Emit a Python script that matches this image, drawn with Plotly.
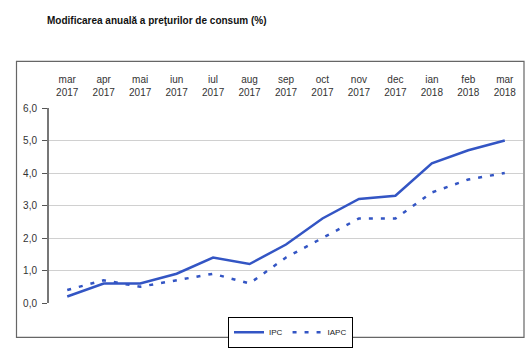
import plotly.graph_objects as go

months = ["mar<br>2017", "apr<br>2017", "mai<br>2017", "iun<br>2017", "iul<br>2017",
          "aug<br>2017", "sep<br>2017", "oct<br>2017", "nov<br>2017", "dec<br>2017",
          "ian<br>2018", "feb<br>2018", "mar<br>2018"]
ipc = [0.2, 0.6, 0.6, 0.9, 1.4, 1.2, 1.8, 2.6, 3.2, 3.3, 4.3, 4.7, 5.0]
iapc = [0.4, 0.7, 0.5, 0.7, 0.9, 0.6, 1.4, 2.0, 2.6, 2.6, 3.4, 3.8, 4.0]
yticks = [0, 1, 2, 3, 4, 5, 6]

idx = list(range(len(months)))
color = "#3355C4"

fig = go.Figure()
fig.add_trace(go.Scatter(x=idx, y=ipc, name="IPC", mode="lines",
                         line=dict(color=color, width=2.5)))
fig.add_trace(go.Scatter(x=idx, y=iapc, name="IAPC", mode="lines",
                         line=dict(color=color, width=2.5, dash="4px,8px")))

W, H = 525, 350
L, R, T, B = 49, 2, 108, 43
pw, ph = W - L - R, H - T - B

def px_x(p):
    return (p - L) / pw

def px_y(p):
    return (H - B - p) / ph

fig.update_layout(
    width=W, height=H,
    margin=dict(l=L, r=R, t=T, b=B),
    paper_bgcolor="white", plot_bgcolor="white",
    separators=",.",
    font=dict(family="Liberation Sans, Arial, sans-serif", size=10, color="#222"),
    title=dict(text="<b>Modificarea anuală a preţurilor de consum (%)</b>",
               x=47 / W, xanchor="left", y=1 - 20 / H, yanchor="middle",
               font=dict(family="Liberation Sans, Arial, sans-serif", size=10, color="#111")),
    xaxis=dict(range=[-0.5, len(months) - 0.5], tickmode="array", tickvals=idx,
               ticktext=months, side="top", showgrid=False, showline=False,
               ticks="", zeroline=False, fixedrange=True, ticklabelstandoff=9,
               tickfont=dict(size=10, color="#333")),
    xaxis2=dict(range=[-0.5, len(months) - 0.5], overlaying="x", anchor="y",
                side="bottom", tickmode="array",
                tickvals=[i - 0.5 for i in range(len(months) + 1)],
                showticklabels=False, ticks="outside", ticklen=4, tickcolor="#444",
                showline=True, linecolor="#666", linewidth=1.5, showgrid=False,
                zeroline=False),
    yaxis=dict(range=[0, 6], tickmode="array", tickvals=yticks, tickformat=".1f",
               showgrid=True, gridcolor="#D0D0D0", gridwidth=1,
               showline=True, linecolor="#777", linewidth=2,
               ticks="outside", ticklen=5, tickcolor="#555", zeroline=False,
               ticklabelstandoff=3,
               tickfont=dict(size=10, color="#333")),
    legend=dict(orientation="h", x=px_x(290.5), xanchor="center",
                y=px_y(321), yanchor="top",
                xref="paper", bordercolor="#000", borderwidth=1,
                font=dict(size=8, color="#222"), itemwidth=30,
                tracegroupgap=0),
    showlegend=True,
)

fig.add_shape(type="rect", xref="paper", yref="paper",
              x0=px_x(16.5), x1=px_x(524), y0=px_y(60.5), y1=px_y(342),
              line=dict(color="#666", width=1.2), layer="below")

fig.write_html("out.html")
